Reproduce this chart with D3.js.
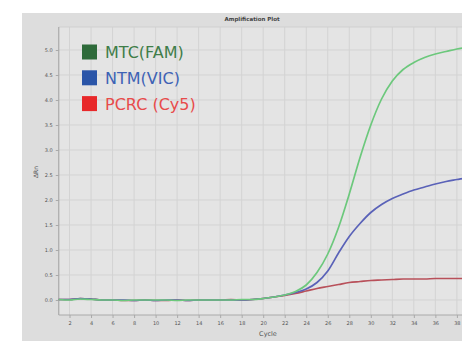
<!DOCTYPE html>
<html><head><meta charset="utf-8">
<script src="https://cdn.jsdelivr.net/npm/d3@7"></script>
<style>html,body{margin:0;padding:0;background:#fff;}svg{display:block;}</style>
</head><body>
<svg id="c" width="462" height="341"></svg>
<script>
const cycles = d3.range(1, 41);
const seriesNames = ["MTC(FAM)", "NTM(VIC)", "PCRC (Cy5)"];
const mtcFam = [0.01,0.00,0.02,0.01,0.00,0.00,-0.01,0.00,0.00,0.00,0.00,-0.01,0.00,0.00,0.00,0.00,0.00,0.01,0.01,0.03,
  0.06,0.10,0.17,0.30,0.55,0.92,1.45,2.12,2.85,3.50,4.02,4.38,4.61,4.75,4.85,4.92,4.97,5.02,5.05,5.08];
const ntmVic = [0.01,0.01,0.03,0.02,0.00,0.00,0.00,-0.01,0.00,-0.01,0.00,0.00,-0.01,0.00,0.00,0.00,0.00,0.00,0.01,0.03,
  0.06,0.10,0.15,0.22,0.35,0.58,0.94,1.27,1.53,1.75,1.91,2.03,2.12,2.20,2.26,2.32,2.37,2.41,2.45,2.48];
const pcrcCy5 = [0.01,0.01,0.03,0.02,0.00,0.00,-0.01,-0.01,0.00,-0.01,-0.01,0.00,-0.01,0.00,0.00,0.00,0.01,0.00,0.01,0.03,
  0.06,0.09,0.13,0.18,0.23,0.27,0.31,0.35,0.37,0.39,0.40,0.41,0.42,0.42,0.42,0.43,0.43,0.43,0.43,0.43];
const xTicks = d3.range(2, 41, 2);
const yTicks = d3.range(0, 5.01, 0.5);

const svg = d3.select("#c");
const lineColors = ["#6cc87c", "#5a62b8", "#b8505a"];
const swatch = ["#2e6b3a", "#2a55a8", "#e8282a"];
const textCol = ["#3f7d49", "#3d62b5", "#e84b4b"];

// panel
svg.append("rect").attr("x",22).attr("y",13).attr("width",440).attr("height",328).attr("fill","#dddddd");
const x = d3.scaleLinear().domain([1, 40]).range([58.76, 478.4]);
const y = d3.scaleLinear().domain([0, 5]).range([300, 50]);
const pTop = 27, pBottom = 315, pLeft = 58.76;
svg.append("rect").attr("x",pLeft).attr("y",pTop).attr("width",462-pLeft).attr("height",pBottom-pTop).attr("fill","#e4e4e4");

// grid
const g = svg.append("g");
g.selectAll(".vg").data(xTicks).join("line")
  .attr("x1",d=>x(d)).attr("x2",d=>x(d)).attr("y1",pTop).attr("y2",pBottom)
  .attr("stroke","#d3d3d3").attr("stroke-width",1);
g.selectAll(".hg").data(yTicks).join("line")
  .attr("x1",pLeft).attr("x2",462).attr("y1",d=>y(d)).attr("y2",d=>y(d))
  .attr("stroke","#d3d3d3").attr("stroke-width",1);
svg.append("line").attr("x1",pLeft).attr("x2",462).attr("y1",pTop).attr("y2",pTop).attr("stroke","#cfcfcf");

// axes
const xAxis = d3.axisBottom(x).tickValues(xTicks).tickSize(3).tickPadding(3).tickFormat(d3.format("d"));
const yAxis = d3.axisLeft(y).tickValues(yTicks).tickSize(3).tickPadding(3).tickFormat(d3.format(".1f"));
const gx = svg.append("g").attr("transform",`translate(0,${pBottom})`).call(xAxis);
const gy = svg.append("g").attr("transform",`translate(${pLeft},0)`).call(yAxis);
gx.select(".domain").attr("d",`M${pLeft},0H462`);
gy.select(".domain").attr("d",`M0,${pTop}V${pBottom}`);
[gx, gy].forEach(a => {
  a.selectAll(".domain").attr("stroke","#a9a9a9").attr("stroke-width",1.2);
  a.selectAll(".tick line").attr("stroke","#a9a9a9");
  a.selectAll(".tick text").attr("fill","#555").attr("font-size",5).attr("font-family","DejaVu Sans");
});

// lines
const line = d3.line().x((d,i)=>x(cycles[i])).y(d=>y(d)).curve(d3.curveMonotoneX);
const series = [pcrcCy5, ntmVic, mtcFam];
const colIdx = [2,1,0];
series.forEach((s,k) => {
  svg.append("path").datum(s).attr("d",line).attr("fill","none")
    .attr("stroke",lineColors[colIdx[k]]).attr("stroke-width",1.7);
});

// title and labels
svg.append("text").attr("x",252).attr("y",21).attr("text-anchor","middle")
  .attr("font-family","DejaVu Sans").attr("font-size",5.5).attr("font-weight","bold").attr("fill","#444").text("Amplification Plot");
svg.append("text").attr("x",268).attr("y",336).attr("text-anchor","middle")
  .attr("font-family","DejaVu Sans").attr("font-size",6.5).attr("fill","#555").text("Cycle");
svg.append("text").attr("transform","translate(38,172) rotate(-90)").attr("text-anchor","middle")
  .attr("font-family","DejaVu Sans").attr("font-size",6).attr("fill","#555").text("ΔRn");

// legend
const lg = svg.append("g");
seriesNames.forEach((n,i) => {
  const cy = 52 + i*25.8;
  lg.append("rect").attr("x",82).attr("y",cy-7.5).attr("width",15).attr("height",15).attr("fill",swatch[i]);
  lg.append("text").attr("x",105).attr("y",cy+6).attr("font-family","DejaVu Sans").attr("font-size",16)
    .attr("fill",textCol[i]).text(n);
});
</script>
</body></html>
